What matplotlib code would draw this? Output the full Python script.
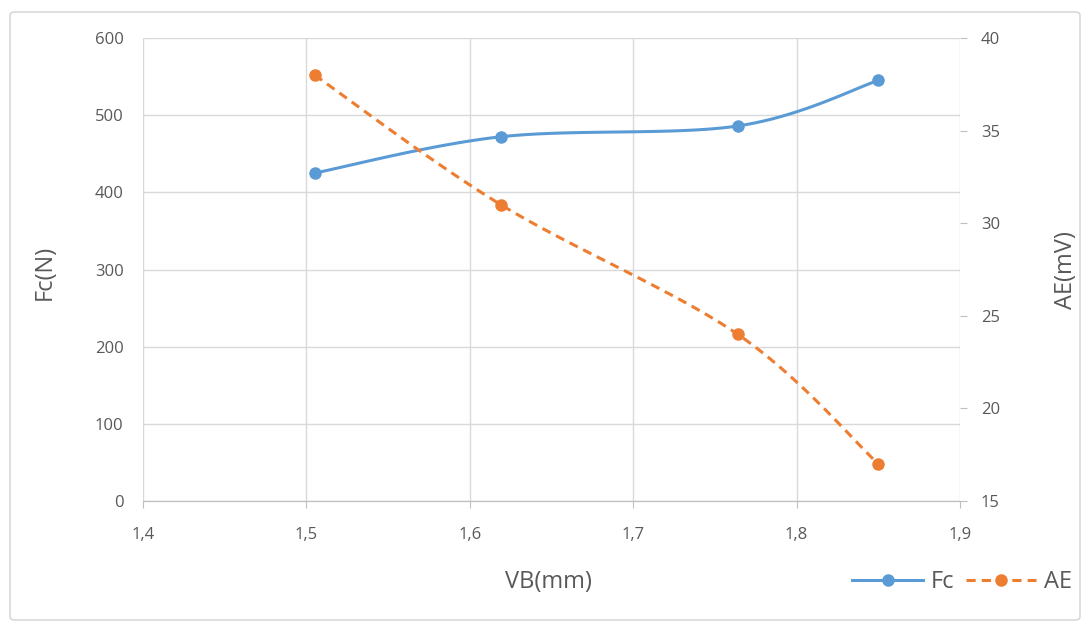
import numpy as np
import matplotlib.pyplot as plt
from matplotlib.patches import FancyBboxPatch
from matplotlib.lines import Line2D

# values
vb = [1.505, 1.619, 1.764, 1.850]
fc = [425, 472, 486, 545]
ae = [38, 31, 24, 17]


def smooth(x, y, n=40):
    # Excel-like smoothed line: Catmull-Rom style bezier segments
    x = np.asarray(x, float)
    y = np.asarray(y, float)
    px = np.concatenate([[x[0]], x, [x[-1]]])
    py = np.concatenate([[y[0]], y, [y[-1]]])
    xs, ys = [], []
    t = np.linspace(0, 1, n)
    for i in range(1, len(px) - 2):
        p0 = np.array([px[i], py[i]])
        p3 = np.array([px[i + 1], py[i + 1]])
        c1 = p0 + (np.array([px[i + 1], py[i + 1]]) - np.array([px[i - 1], py[i - 1]])) / 6
        c2 = p3 - (np.array([px[i + 2], py[i + 2]]) - np.array([px[i], py[i]])) / 6
        b = ((1 - t) ** 3)[:, None] * p0 + (3 * (1 - t) ** 2 * t)[:, None] * c1 \
            + (3 * (1 - t) * t ** 2)[:, None] * c2 + (t ** 3)[:, None] * p3
        xs.extend(b[:, 0])
        ys.extend(b[:, 1])
    return xs, ys


plt.rcParams['font.family'] = ['Open Sans', 'DejaVu Sans']
txt = '#595959'
grid = '#D9D9D9'
blue = '#5B9BD5'
orange = '#ED7D31'

fig = plt.figure(figsize=(10.89, 6.28), dpi=100)
fig.patches.append(FancyBboxPatch((10 / 1089, 8 / 628), 1070 / 1089, 608 / 628,
                                  boxstyle='round,pad=0,rounding_size=0.005',
                                  transform=fig.transFigure, fill=False,
                                  edgecolor=grid, linewidth=1.2))

ax = fig.add_axes([143 / 1089, 1 - 501 / 628, 817 / 1089, 463 / 628])
ax2 = ax.twinx()

sx, sy = smooth(vb, fc)
ax.plot(sx, sy, color=blue, linewidth=2.2, zorder=3)
ax.plot(vb, fc, 'o', color=blue, markersize=8, zorder=4)

sx2, sy2 = smooth(vb, ae)
ax2.plot(sx2, sy2, color=orange, linewidth=2.2, linestyle=(0, (3, 2)), zorder=3)
ax2.plot(vb, ae, 'o', color=orange, markersize=8, zorder=4)

ax.set_xlim(1.4, 1.9)
ax.set_ylim(0, 600)
ax2.set_ylim(15, 40)
ax.set_xticks(np.arange(1.4, 1.91, 0.1))
ax.set_xticklabels(['1,4', '1,5', '1,6', '1,7', '1,8', '1,9'])
ax.set_yticks(range(0, 601, 100))
ax2.set_yticks(range(15, 41, 5))

ax.grid(True, color=grid, linewidth=1)
ax.set_axisbelow(True)
for a in (ax, ax2):
    for s in ('top', 'left', 'right'):
        a.spines[s].set_visible(False)
    a.spines['bottom'].set_color('#BFBFBF')
ax.tick_params(axis='x', colors=txt, labelsize=12, length=5, color='#BFBFBF', pad=14)
ax.tick_params(axis='y', colors=txt, labelsize=12, length=0, pad=14)
ax2.tick_params(axis='y', colors=txt, labelsize=12, length=5, color='#BFBFBF', pad=10)

# axis titles
fig.text(548 / 1089, 1 - 582 / 628, 'VB(mm)', fontsize=17, color=txt, ha='center', va='center')
fig.text(45 / 1089, 1 - 272 / 628, 'Fc(N)', fontsize=17, color=txt, ha='center', va='center',
         rotation=90)
fig.text(1066 / 1089, 1 - 270 / 628, 'AE(mV)', fontsize=17, color=txt, ha='center',
         va='center', rotation=90)

handles = [Line2D([], [], color=blue, linewidth=2.2, marker='o', markersize=8),
           Line2D([], [], color=orange, linewidth=2.2, linestyle=(0, (3, 2)),
                  marker='o', markersize=8)]
fig.legend(handles, ['Fc', 'AE'], loc='center', bbox_to_anchor=(962 / 1089, 1 - 582 / 628),
           ncol=2, frameon=False, fontsize=17, labelcolor=txt, handlelength=3,
           columnspacing=0.5, handletextpad=0.3)

fig.savefig('out.png', dpi=100)
